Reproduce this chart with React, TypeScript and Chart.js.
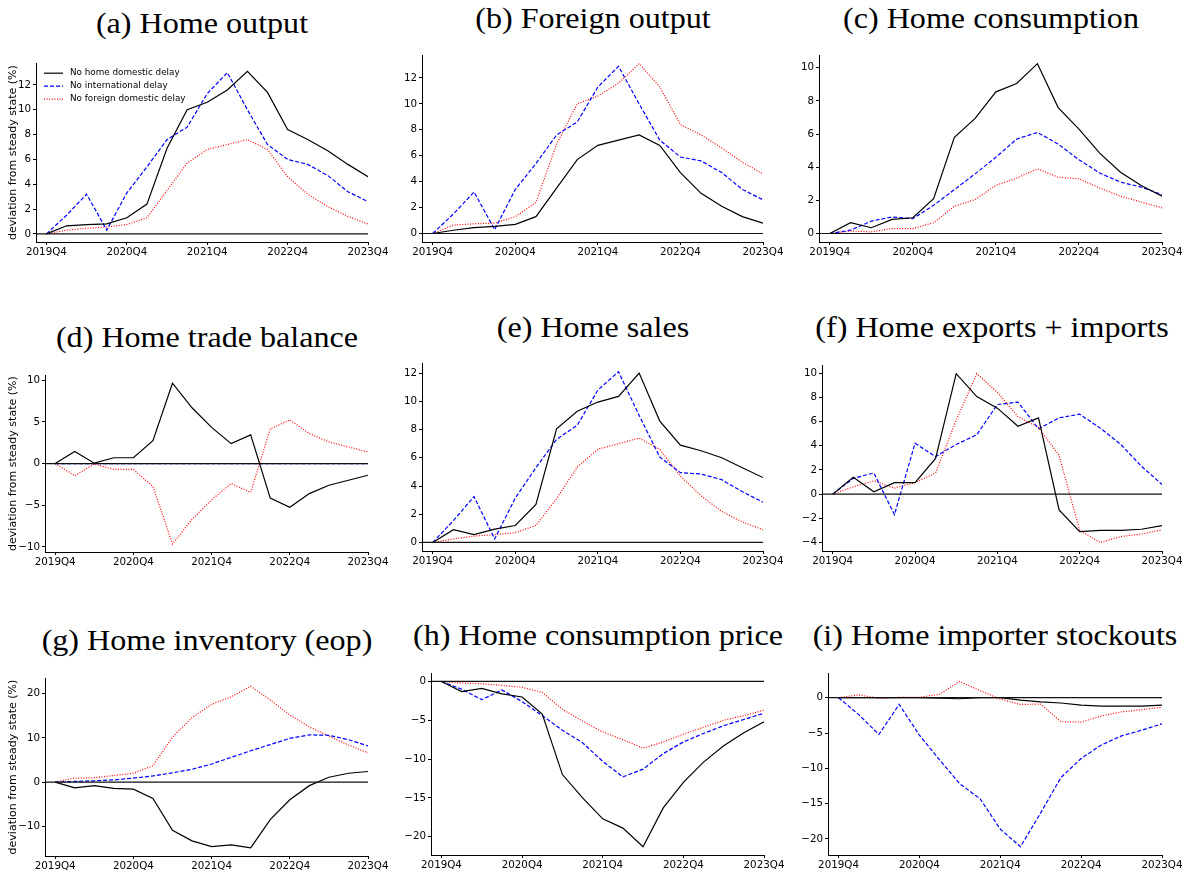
import React, { useEffect, useRef } from 'react';
import { Chart, registerables } from 'chart.js';

Chart.register(...registerables);

// ---------- data ----------
const QUARTERS = [
  '2019Q4', '2020Q1', '2020Q2', '2020Q3', '2020Q4', '2021Q1', '2021Q2', '2021Q3', '2021Q4',
  '2022Q1', '2022Q2', '2022Q3', '2022Q4', '2023Q1', '2023Q2', '2023Q3', '2023Q4',
];
const X_TICK_INDEX = [0, 4, 8, 12, 16];
const SERIES_NAMES = ['No home domestic delay', 'No international delay', 'No foreign domestic delay'];

// (a) Home output
const A_NO_HOME = [0, 0.65, 0.75, 0.8, 1.3, 2.4, 6.9, 10.0, 10.6, 11.6, 13.1, 11.4, 8.4, 7.6, 6.7, 5.6, 4.6];
const A_NO_INTL = [0, 1.5, 3.2, 0.3, 3.3, 5.4, 7.6, 8.6, 11.3, 13.0, 10.0, 7.2, 6.0, 5.6, 4.7, 3.4, 2.6];
const A_NO_FOREIGN = [0, 0.3, 0.45, 0.55, 0.75, 1.3, 3.5, 5.7, 6.8, 7.2, 7.6, 6.8, 4.6, 3.2, 2.2, 1.4, 0.8];
const A_TICKS = [0, 2, 4, 6, 8, 10, 12];

// (b) Foreign output
const B_NO_HOME = [0, 0.25, 0.45, 0.55, 0.7, 1.3, 3.5, 5.7, 6.8, 7.2, 7.6, 6.8, 4.7, 3.1, 2.1, 1.3, 0.8];
const B_NO_INTL = [0, 1.5, 3.2, 0.3, 3.4, 5.4, 7.6, 8.6, 11.3, 12.9, 10.0, 7.2, 5.9, 5.6, 4.7, 3.4, 2.6];
const B_NO_FOREIGN = [0, 0.65, 0.75, 0.8, 1.3, 2.4, 6.9, 10.0, 10.6, 11.6, 13.1, 11.3, 8.4, 7.6, 6.6, 5.5, 4.6];
const B_TICKS = [0, 2, 4, 6, 8, 10, 12];

// (c) Home consumption
const C_NO_HOME = [0, 0.65, 0.35, 0.85, 0.95, 2.1, 5.8, 6.95, 8.55, 9.05, 10.25, 7.6, 6.3, 4.85, 3.7, 2.9, 2.25];
const C_NO_INTL = [0, 0.2, 0.75, 1.0, 0.9, 1.7, 2.65, 3.6, 4.6, 5.7, 6.1, 5.4, 4.45, 3.65, 3.1, 2.8, 2.35];
const C_NO_FOREIGN = [0, 0.15, 0.1, 0.3, 0.3, 0.65, 1.65, 2.05, 2.9, 3.35, 3.9, 3.4, 3.3, 2.75, 2.25, 1.9, 1.55];
const C_TICKS = [0, 2, 4, 6, 8, 10];

// (d) Home trade balance
const D_NO_HOME = [0, 1.45, 0.05, 0.7, 0.7, 2.75, 9.65, 6.7, 4.35, 2.4, 3.45, -4.15, -5.25, -3.6, -2.6, -2.0, -1.4];
const D_NO_INTL = [0, 0, 0, 0, 0, 0, 0, 0, 0, 0, 0, 0, 0, 0, 0, 0, 0];
const D_NO_FOREIGN = [0, -1.45, -0.05, -0.7, -0.7, -2.75, -9.65, -6.7, -4.35, -2.4, -3.45, 4.15, 5.25, 3.6, 2.6, 2.0, 1.4];
const D_TICKS = [-10, -5, 0, 5, 10];

// (e) Home sales
const E_NO_HOME = [0, 0.9, 0.55, 0.95, 1.2, 2.7, 8.05, 9.3, 9.95, 10.35, 12.0, 8.6, 6.9, 6.5, 6.0, 5.3, 4.6];
const E_NO_INTL = [0, 1.55, 3.25, 0.25, 3.15, 5.3, 7.3, 8.3, 10.8, 12.1, 9.0, 6.05, 4.95, 4.85, 4.45, 3.6, 2.85];
const E_NO_FOREIGN = [0, 0.25, 0.45, 0.55, 0.7, 1.2, 3.1, 5.35, 6.6, 7.0, 7.4, 6.6, 4.7, 3.3, 2.2, 1.45, 0.9];
const E_TICKS = [0, 2, 4, 6, 8, 10, 12];

// (f) Home exports + imports
const F_NO_HOME = [0, 1.4, 0.2, 0.95, 0.95, 2.95, 9.95, 8.05, 7.1, 5.6, 6.3, -1.3, -3.1, -3.0, -3.0, -2.9, -2.6];
const F_NO_INTL = [0, 1.3, 1.75, -1.7, 4.2, 3.1, 4.1, 4.9, 7.4, 7.6, 5.4, 6.3, 6.6, 5.45, 4.1, 2.3, 0.8];
const F_NO_FOREIGN = [0, 0.6, 1.1, 0.5, 0.95, 1.75, 6.1, 9.95, 8.4, 6.4, 5.5, 3.2, -3.0, -4.0, -3.5, -3.3, -2.95];
const F_TICKS = [-4, -2, 0, 2, 4, 6, 8, 10];

// (g) Home inventory (eop)
const G_NO_HOME = [0, -1.3, -0.8, -1.4, -1.6, -3.7, -10.9, -13.3, -14.6, -14.2, -14.9, -8.5, -4.0, -0.8, 1.1, 2.0, 2.4];
const G_NO_INTL = [0, 0.15, 0.3, 0.5, 0.9, 1.4, 2.1, 2.9, 4.1, 5.6, 7.1, 8.5, 9.9, 10.7, 10.6, 9.6, 8.2];
const G_NO_FOREIGN = [0, 0.9, 1.0, 1.5, 2.0, 3.7, 10.2, 14.6, 17.6, 19.3, 21.7, 18.6, 15.2, 12.5, 10.4, 8.4, 6.6];
const G_TICKS = [-10, 0, 10, 20];

// (h) Home consumption price
const H_NO_HOME = [0, -1.3, -0.9, -1.6, -2.0, -4.2, -12.0, -15.0, -17.7, -18.9, -21.3, -16.3, -13.0, -10.4, -8.3, -6.6, -5.2];
const H_NO_INTL = [0, -1.0, -2.35, -1.1, -2.6, -4.4, -6.3, -7.9, -10.3, -12.3, -11.3, -9.3, -7.8, -6.7, -5.7, -4.9, -4.1];
const H_NO_FOREIGN = [0, -0.2, -0.3, -0.5, -0.75, -1.4, -3.6, -5.1, -6.5, -7.5, -8.6, -7.8, -6.8, -5.9, -5.0, -4.4, -3.7];
const H_TICKS = [-20, -15, -10, -5, 0];

// (i) Home importer stockouts
const I_NO_HOME = [0, 0, 0, 0, 0, -0.05, -0.15, 0, 0, -0.35, -0.6, -0.75, -1.05, -1.2, -1.2, -1.2, -1.05];
const I_NO_INTL = [0, -2.4, -5.2, -0.95, -5.3, -8.8, -12.2, -14.3, -18.6, -21.1, -16.3, -11.3, -8.6, -6.7, -5.4, -4.6, -3.7];
const I_NO_FOREIGN = [0, 0.4, -0.1, 0.05, 0.05, 0.5, 2.3, 1.0, -0.2, -0.95, -0.9, -3.4, -3.45, -2.6, -2.0, -1.7, -1.35];
const I_TICKS = [-20, -15, -10, -5, 0];

// ---------- styling ----------
const SERIES_STYLE = [
  { color: '#000000', dash: [] as number[], width: 1.2 },
  { color: '#0000ff', dash: [4, 2], width: 1.2 },
  { color: '#ff0000', dash: [1, 1.6], width: 1.2 },
];
const TICK_FONT = { family: 'DejaVu Sans', size: 10.3 };
const Y_TITLE = 'deviation from steady state (%)';
const X_MIN = -0.52;

type Box = { x0: number; x1: number; y0: number; y1: number };
type PanelProps = {
  title: string;
  series: number[][];
  yTicks: number[];
  box: Box;
  titleBaseline: number;
  yTitle?: boolean;
  legend?: boolean;
};

const fmt = (v: number) => (v < 0 ? '\u2212' + Math.abs(v) : String(v));

const zeroLinePlugin = {
  id: 'zeroLine',
  afterDatasetsDraw(chart: any) {
    const { ctx, chartArea, scales } = chart;
    const y = scales.y.getPixelForValue(0);
    ctx.save();
    ctx.strokeStyle = '#111';
    ctx.lineWidth = 1.2;
    ctx.beginPath();
    ctx.moveTo(chartArea.left, y);
    ctx.lineTo(chartArea.right, y);
    ctx.stroke();
    ctx.restore();
  },
};

const legendPlugin = {
  id: 'innerLegend',
  afterDraw(chart: any) {
    const { ctx, chartArea } = chart;
    ctx.save();
    ctx.font = '8.8px "DejaVu Sans"';
    ctx.textBaseline = 'middle';
    SERIES_NAMES.forEach((name, i) => {
      const st = SERIES_STYLE[i];
      const y = chartArea.top + 10 + i * 13;
      const x = chartArea.left + 8;
      ctx.strokeStyle = st.color;
      ctx.lineWidth = 1.2;
      ctx.setLineDash(st.dash);
      ctx.beginPath();
      ctx.moveTo(x, y);
      ctx.lineTo(x + 19, y);
      ctx.stroke();
      ctx.setLineDash([]);
      ctx.fillStyle = '#000';
      ctx.fillText(name, x + 26, y);
    });
    ctx.restore();
  },
};

function Panel({ title, series, yTicks, box, titleBaseline, yTitle, legend }: PanelProps) {
  const ref = useRef<HTMLCanvasElement>(null);
  const canvasLeft = yTitle ? 0 : box.x0 - 40;
  const padTop = 8;
  const padRight = 26;
  const xAxisH = 20;
  const canvasTop = box.y0 - padTop;
  const cw = box.x1 + padRight - canvasLeft;
  const ch = box.y1 + xAxisH - canvasTop;

  useEffect(() => {
    if (!ref.current) return;
    const all = series.flat();
    const lo = Math.min(...all);
    const hi = Math.max(...all);
    const m = (hi - lo) * 0.05;
    const yAxisW = box.x0 - canvasLeft;
    const chart = new Chart(ref.current, {
      type: 'line',
      data: {
        datasets: series.map((vals, i) => ({
          label: SERIES_NAMES[i],
          data: vals.map((v, k) => ({ x: k, y: v })),
          borderColor: SERIES_STYLE[i].color,
          borderDash: SERIES_STYLE[i].dash,
          borderWidth: SERIES_STYLE[i].width,
          pointRadius: 0,
          tension: 0,
          fill: false,
        })),
      },
      options: {
        animation: false,
        responsive: false,
        maintainAspectRatio: false,
        layout: { padding: { top: padTop, right: padRight, left: 0, bottom: 0 } },
        plugins: { legend: { display: false }, tooltip: { enabled: false }, title: { display: false } },
        scales: {
          x: {
            type: 'linear',
            min: X_MIN,
            max: 16,
            afterBuildTicks: (s: any) => {
              s.ticks = X_TICK_INDEX.map((v) => ({ value: v }));
            },
            afterFit: (s: any) => {
              s.height = xAxisH;
            },
            ticks: {
              callback: (v: any) => QUARTERS[v as number],
              autoSkip: false,
              maxRotation: 0,
              padding: 1,
              color: '#000',
              font: TICK_FONT,
            },
            grid: { drawOnChartArea: false, drawTicks: true, tickLength: 3, tickColor: '#000', color: '#000' },
            border: { display: true, color: '#000', width: 1 },
          },
          y: {
            type: 'linear',
            min: lo - m,
            max: hi + m,
            afterBuildTicks: (s: any) => {
              s.ticks = yTicks.map((v) => ({ value: v }));
            },
            afterFit: (s: any) => {
              s.width = yAxisW;
            },
            ticks: {
              callback: (v: any) => fmt(v as number),
              padding: 2,
              color: '#000',
              font: TICK_FONT,
            },
            title: yTitle
              ? {
                  display: true,
                  text: Y_TITLE,
                  color: '#000',
                  font: { family: 'DejaVu Sans', size: 11 },
                  padding: { top: 6.5, bottom: 0 },
                }
              : { display: false },
            grid: { drawOnChartArea: false, drawTicks: true, tickLength: 3, tickColor: '#000', color: '#000' },
            border: { display: true, color: '#000', width: 1 },
          },
        },
      },
      plugins: legend ? [zeroLinePlugin, legendPlugin] : [zeroLinePlugin],
    } as any);
    return () => chart.destroy();
  }, []);

  const cx = (box.x0 + box.x1) / 2;
  return (
    <>
      <div
        style={{
          position: 'absolute',
          left: cx - 300,
          width: 600,
          top: titleBaseline - 25,
          height: 32,
          lineHeight: '30px',
          fontSize: 30,
          fontFamily: '"Liberation Serif", serif',
          textAlign: 'center',
          color: '#000',
          whiteSpace: 'nowrap',
          transform: 'scaleX(1.07)',
        }}
      >
        {title}
      </div>
      <canvas
        ref={ref}
        width={cw}
        height={ch}
        style={{ position: 'absolute', left: canvasLeft, top: canvasTop, width: cw, height: ch }}
      />
    </>
  );
}

export default function App() {
  return (
    <div style={{ position: 'absolute', left: 0, top: 0, width: 1190, height: 873, background: '#fff', overflow: 'hidden' }}>
      <Panel title="(a) Home output" series={[A_NO_HOME, A_NO_INTL, A_NO_FOREIGN]} yTicks={A_TICKS}
        box={{ x0: 36, x1: 368, y0: 63, y1: 242 }} titleBaseline={33} yTitle legend />
      <Panel title="(b) Foreign output" series={[B_NO_HOME, B_NO_INTL, B_NO_FOREIGN]} yTicks={B_TICKS}
        box={{ x0: 422, x1: 763, y0: 55, y1: 242 }} titleBaseline={28} />
      <Panel title="(c) Home consumption" series={[C_NO_HOME, C_NO_INTL, C_NO_FOREIGN]} yTicks={C_TICKS}
        box={{ x0: 819, x1: 1162, y0: 55, y1: 242 }} titleBaseline={28} />
      <Panel title="(d) Home trade balance" series={[D_NO_HOME, D_NO_INTL, D_NO_FOREIGN]} yTicks={D_TICKS}
        box={{ x0: 45, x1: 368, y0: 375, y1: 552 }} titleBaseline={347} yTitle />
      <Panel title="(e) Home sales" series={[E_NO_HOME, E_NO_INTL, E_NO_FOREIGN]} yTicks={E_TICKS}
        box={{ x0: 422, x1: 763, y0: 363, y1: 551 }} titleBaseline={337} />
      <Panel title="(f) Home exports + imports" series={[F_NO_HOME, F_NO_INTL, F_NO_FOREIGN]} yTicks={F_TICKS}
        box={{ x0: 822, x1: 1162, y0: 365, y1: 551 }} titleBaseline={337} />
      <Panel title="(g) Home inventory (eop)" series={[G_NO_HOME, G_NO_INTL, G_NO_FOREIGN]} yTicks={G_TICKS}
        box={{ x0: 45, x1: 368, y0: 678, y1: 856 }} titleBaseline={650} yTitle />
      <Panel title="(h) Home consumption price" series={[H_NO_HOME, H_NO_INTL, H_NO_FOREIGN]} yTicks={H_TICKS}
        box={{ x0: 431, x1: 764, y0: 673, y1: 855 }} titleBaseline={645} />
      <Panel title="(i) Home importer stockouts" series={[I_NO_HOME, I_NO_INTL, I_NO_FOREIGN]} yTicks={I_TICKS}
        box={{ x0: 828, x1: 1162, y0: 673, y1: 855 }} titleBaseline={645} />
    </div>
  );
}
